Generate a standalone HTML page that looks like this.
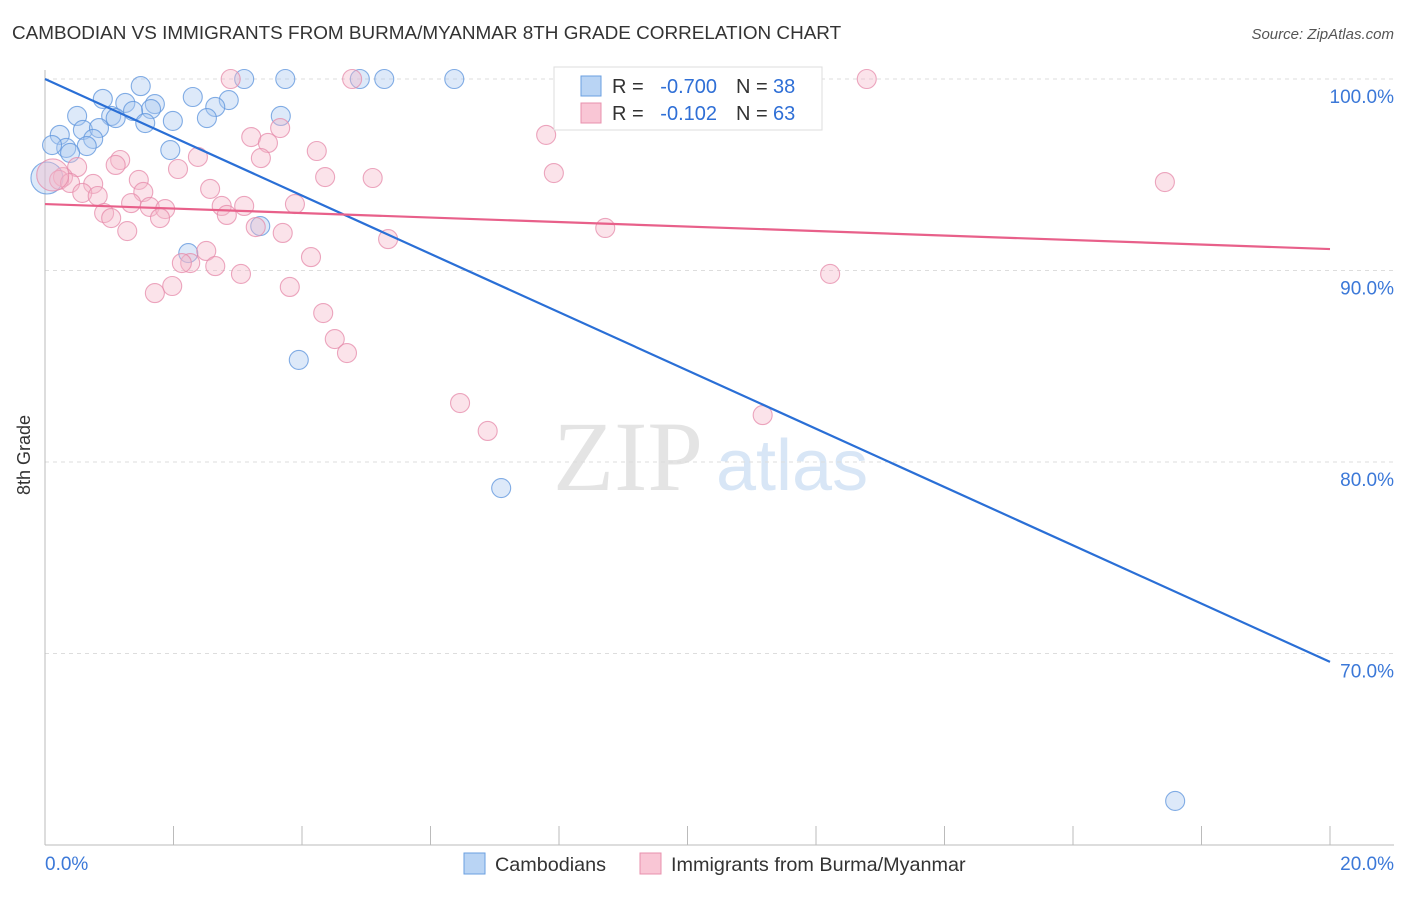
<!DOCTYPE html>
<html><head><meta charset="utf-8"><style>
body{margin:0;background:#fff;font-family:"Liberation Sans",sans-serif}
svg text{font-family:"Liberation Sans",sans-serif}
</style></head><body>
<svg id="c" width="1406" height="892">
<text x="12" y="39" font-size="18.9" fill="#333">CAMBODIAN VS IMMIGRANTS FROM BURMA/MYANMAR 8TH GRADE CORRELATION CHART</text>
<text x="1394" y="39" font-size="15" fill="#555" text-anchor="end" font-style="italic">Source: ZipAtlas.com</text>
<text x="30" y="455" font-size="18" fill="#333" transform="rotate(-90 30 455)" text-anchor="middle">8th Grade</text>
<g>
<text x="553" y="490" font-size="100" fill="#e4e4e4" style="font-family:'Liberation Serif',serif">ZIP</text>
<text x="716" y="490" font-size="72" fill="#d8e6f6">atlas</text>
</g>
<g id="grid"></g>
<g id="axes"></g>
<g id="pts"></g>
<g id="lines"></g>
<g>
<rect x="554" y="67" width="268" height="63" fill="#fff" stroke="#ddd"/>
<rect x="581" y="76" width="20" height="20" fill="#b9d4f4" stroke="#6a9fe0"/>
<text x="612" y="93" font-size="20" fill="#333">R =</text>
<text x="717" y="93" font-size="20" fill="#2f6fd6" text-anchor="end">-0.700</text>
<text x="736" y="93" font-size="20" fill="#333">N =</text>
<text x="773" y="93" font-size="20" fill="#2f6fd6">38</text>
<rect x="581" y="103" width="20" height="20" fill="#f9c6d5" stroke="#e890ad"/>
<text x="612" y="120" font-size="20" fill="#333">R =</text>
<text x="717" y="120" font-size="20" fill="#2f6fd6" text-anchor="end">-0.102</text>
<text x="736" y="120" font-size="20" fill="#333">N =</text>
<text x="773" y="120" font-size="20" fill="#2f6fd6">63</text>
</g>
<g>
<rect x="464" y="853" width="21" height="21" fill="#b9d4f4" stroke="#6a9fe0"/>
<text x="495" y="871" font-size="19.8" fill="#333">Cambodians</text>
<rect x="640" y="853" width="21" height="21" fill="#f9c6d5" stroke="#e890ad"/>
<text x="671" y="871" font-size="19.8" fill="#333">Immigrants from Burma/Myanmar</text>
</g>
</svg>
<script>
const blueX=[1.49,3.10,3.74,4.90,5.28,6.37,8.64,0.90,2.30,1.25,1.71,1.65,2.86,2.65,0.50,1.03,1.10,1.37,1.56,1.99,2.52,3.67,0.59,0.84,0.23,0.75,0.33,0.65,0.11,0.39,1.95,3.35,2.23,3.95,7.10,17.59,0.03];
const blueY=[99.63,100,100,100,100,100,100,98.96,99.06,98.75,98.69,98.43,98.90,98.54,98.07,98.07,97.96,98.33,97.70,97.81,97.96,98.07,97.34,97.44,97.08,96.87,96.40,96.50,96.55,96.14,96.29,92.32,90.91,85.33,78.64,62.30,94.83];
const pinkX=[2.89,4.78,12.79,9.98,3.66,3.21,3.47,7.80,4.23,3.36,2.38,1.17,1.10,0.50,2.07,4.36,5.10,7.92,1.46,0.28,0.22,0.39,0.75,17.43,2.57,1.53,0.58,0.82,1.34,1.63,1.87,3.89,3.10,2.75,0.92,1.03,1.79,2.83,3.28,3.70,1.28,8.72,5.34,2.51,2.26,2.13,2.65,4.14,3.05,12.22,3.81,1.98,1.71,4.33,4.51,4.70,6.46,6.89,11.17,0.12];
const pinkY=[100,100,100,100,97.44,96.97,96.66,97.08,96.24,95.87,95.93,95.77,95.51,95.40,95.30,94.88,94.83,95.09,94.73,94.88,94.73,94.57,94.52,94.62,94.26,94.10,94.05,93.89,93.52,93.32,93.21,93.47,93.37,93.37,93.00,92.74,92.74,92.90,92.27,91.96,92.06,92.22,91.64,91.02,90.39,90.39,90.23,90.70,89.82,89.82,89.14,89.19,88.82,87.78,86.42,85.69,83.08,81.62,82.45,94.99];
const blueTrend=[100,69.56];
const pinkTrend=[93.47,91.12];
const yTicks=[100,90,80,70];
const xTicks=[0,2,4,6,8,10,12,14,16,18,20];
const NS="http://www.w3.org/2000/svg";
const sx=v=>45+v/20*1285;
const sy=v=>79+(100-v)*19.15;
function mk(t,a,p){const e=document.createElementNS(NS,t);for(const k in a)e.setAttribute(k,a[k]);p.appendChild(e);return e;}
const grid=document.getElementById('grid'),axes=document.getElementById('axes'),pts=document.getElementById('pts'),lines=document.getElementById('lines');
yTicks.forEach(v=>{
 const l=mk('line',{x1:45,x2:1394,y1:sy(v),y2:sy(v),stroke:'#ddd','stroke-dasharray':'4,4'},grid);
 
 
 const t=mk('text',{x:1394,y:sy(v)+24,'font-size':19,fill:'#3b78d8','text-anchor':'end'},axes);
 t.textContent=v.toFixed(1)+'%';
 
 
});
mk('line',{x1:45,x2:45,y1:70,y2:845,stroke:'#bbb'},axes);
mk('line',{x1:45,x2:1394,y1:845,y2:845,stroke:'#bbb'},axes);
xTicks.forEach(v=>{
 const l=mk('line',{x1:sx(v),x2:sx(v),y1:826,y2:845,stroke:'#bbb'},axes);
 
 
});
[[0,'start',45],[20,'end',1394]].forEach(([v,a,x])=>{
 const t=mk('text',{x:x,y:870,'font-size':19,fill:'#3b78d8','text-anchor':a},axes);
 t.textContent=v.toFixed(1)+'%';
 
 
});
function dots(X,Y,fill,stroke,name){
 X.forEach((x,i)=>{
  const big=i===X.length-1;
  const c=mk('circle',{cx:sx(x),cy:sy(Y[i]),r:big?16:9.5,fill:fill,'fill-opacity':0.4,stroke:stroke,'stroke-opacity':0.75,'stroke-width':1.1},pts);
  
  
 });
}
dots(blueX,blueY,'#a9c9f0','#5b93dc','point-cambodians');
dots(pinkX,pinkY,'#f6b8cb','#e68aa9','point-burma');
const bl=mk('line',{x1:sx(0),y1:sy(blueTrend[0]),x2:sx(20),y2:sy(blueTrend[1]),stroke:'#2a6fd6','stroke-width':2.2},lines);


const pl=mk('line',{x1:sx(0),y1:sy(pinkTrend[0]),x2:sx(20),y2:sy(pinkTrend[1]),stroke:'#e8608a','stroke-width':2.2},lines);


</script>
</body></html>
